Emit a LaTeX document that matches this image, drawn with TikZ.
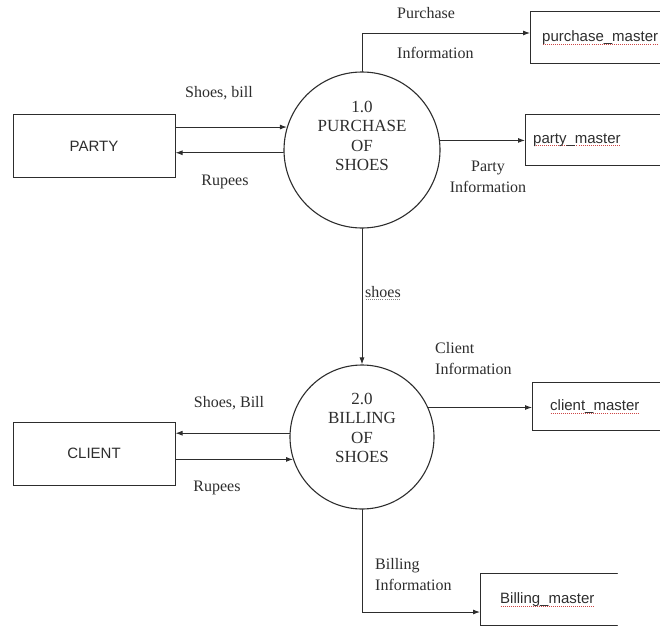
\documentclass[tikz,border=0pt]{standalone}
\usepackage{fontspec}
\setmainfont{Liberation Serif}
\setsansfont{Liberation Sans}
\usetikzlibrary{arrows.meta}
\definecolor{ink}{RGB}{45,45,45}
\definecolor{spell}{RGB}{205,70,70}
\newcommand\squig[2][spell]{\setbox0=\hbox{#2}\rlap{\raisebox{-3pt}{\color{#1}\hbox to \wd0{\xleaders\hbox to 2pt{\hss\rule{1pt}{0.8pt}\hss}\hfill}}}\box0}

\begin{document}
\begin{tikzpicture}[x=1pt,y=-1pt,line cap=round,
  flow/.style={draw=ink,line width=0.9pt,-{Latex[length=7pt,width=5pt]}},
  proc/.style={circle,draw=ink,line width=1.1pt,minimum size=#1,inner sep=0pt},
  ptext/.style={align=center,inner sep=0pt,text=ink,font=\fontsize{17}{19.5}\selectfont},
  ext/.style={rectangle,draw=ink,line width=1pt,minimum width=162pt,minimum height=63pt,text=ink,font=\sffamily\fontsize{15}{18}\selectfont},
  store/.style 2 args={rectangle,anchor=west,inner xsep=#1,text width=#2,align=left,text=ink,font=\sffamily\fontsize{15}{18}\selectfont},
  lbl/.style={inner sep=0pt,text=ink,font=\fontsize{16}{21}\selectfont}]
  \useasboundingbox (0,0) rectangle (660,626);
  \clip (0,0) rectangle (660,626);
  \node[ext] (party) at (94,146) {PARTY};
  \node[ext] (client) at (94,453.5) {CLIENT};
  \node[proc=156pt] (pur) at (362,150) {};
  \node[proc=144pt] (bil) at (362,437) {};
  \node[ptext] (purt) at (362,136) {1.0\\PURCHASE\\OF\\SHOES};
  \node[ptext] (bilt) at (362,428) {2.0\\BILLING\\OF\\SHOES};
  \node[store={12pt}{106pt},minimum height=51pt] (pum) at (530,37.5) {\squig{purchase\_master}};
  \node[store={8pt}{119pt},minimum height=50pt] (ptm) at (525,140) {\squig{party\_master}};
  \node[store={18pt}{92pt},minimum height=47pt] (clm) at (532,406.5) {\squig{client\_master}};
  \node[store={20pt}{97pt},minimum height=51pt] (bm) at (480,599.5) {\squig{Billing\_master}};
  \foreach \s in {pum,ptm,clm,bm}
    \draw[ink,line width=1pt] (\s.north east) -- (\s.north west) -- (\s.south west) -- (\s.south east);
  % flows
  \draw[flow] (party.east |- pur.163) -- (pur.163);
  \draw[flow] (pur.182) -- (pur.182 -| party.east);
  \draw[flow] (pur.7) -- (pur.7 -| ptm.west);
  \draw[flow] (pur.north) |- ([yshift=4.5pt]pum.west);
  \draw[flow] (pur.south) -- (bil.north);
  \draw[flow] (bil.24) -- (bil.24 -| clm.west);
  \draw[flow] (bil.177) -- (bil.177 -| client.east);
  \draw[flow] (client.east |- bil.198) -- (bil.198);
  \draw[flow] (bil.south) |- ([yshift=-12.5pt]bm.west);
  % labels
  \node[lbl,anchor=west] (lpa) at (397,13) {Purchase};
  \node[lbl,anchor=west] (lpb) at (397,53) {Information};
  \node[lbl,align=center] (lpi) at (488,177) {Party\\Information};
  \node[lbl] (lsb) at (219,93) {Shoes, bill};
  \node[lbl] (lr1) at (225,182) {Rupees};
  \node[lbl,anchor=west] (lsh) at (365,293) {\squig[gray]{shoes}};
  \node[lbl,align=left,anchor=west] (lci) at (435,359) {Client\\Information};
  \node[lbl] (lsB) at (229,403) {Shoes, Bill};
  \node[lbl] (lr2) at (217,488) {Rupees};
  \node[lbl,align=left,anchor=west] (lbi) at (375,575) {Billing\\Information};
\end{tikzpicture}
\end{document}
